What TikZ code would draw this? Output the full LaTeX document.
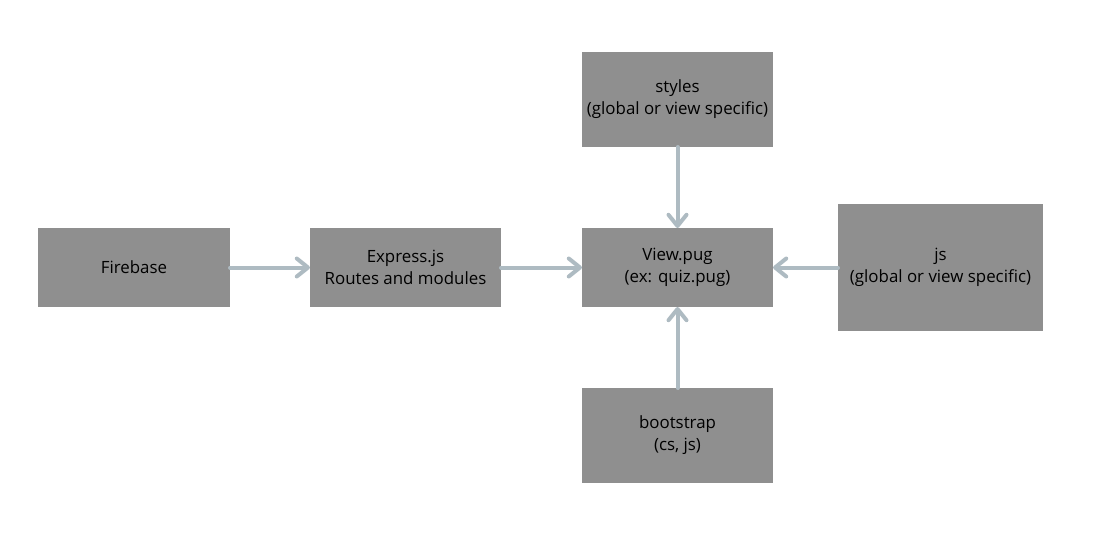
\documentclass[tikz,border=0pt]{standalone}
\usepackage{fontspec}
\setmainfont{Open Sans}
\usetikzlibrary{arrows.meta}
\definecolor{boxgray}{HTML}{8F8F8F}
\definecolor{flowblue}{HTML}{AEBBC2}
\tikzset{
  block/.style={rectangle, fill=boxgray, draw=none, inner sep=0pt, outer sep=0pt,
    align=center, font=\fontsize{12}{15.6}\selectfont, text=black},
  flow/.style={draw=flowblue, line width=0.1cm, line cap=round,
    -{Straight Barb[length=0.28cm, width=0.45cm, line cap=round, round]}}
}
\begin{document}
\begin{tikzpicture}[x=0.025cm, y=-0.025cm]
  \useasboundingbox (0,0) rectangle (1096,540);
  \node[block, minimum width=4.8cm, minimum height=1.975cm] (firebase) at (134,267.5) {Firebase};
  \node[block, minimum width=4.775cm, minimum height=1.975cm] (express) at (405.5,267.5) {Express.js\\Routes and modules};
  \node[block, minimum width=4.775cm, minimum height=1.975cm] (view) at (677.5,267.5) {View.pug\\(ex: quiz.pug)};
  \node[block, minimum width=4.775cm, minimum height=2.375cm] (styles) at (677.5,99.5) {styles\\(global or view specific)};
  \node[block, minimum width=4.775cm, minimum height=2.375cm] (bootstrap) at (677.5,435.5) {bootstrap\\(cs, js)};
  \node[block, minimum width=5.125cm, minimum height=3.175cm] (js) at (940.5,267.5) {js\\(global or view specific)};
  % connectors
  \draw[flow] (firebase) -- (express);
  \draw[flow] (express) -- (view);
  \draw[flow] (styles) -- (view);
  \draw[flow] (bootstrap) -- (view);
  \draw[flow] (js) -- (view);
\end{tikzpicture}
\end{document}
